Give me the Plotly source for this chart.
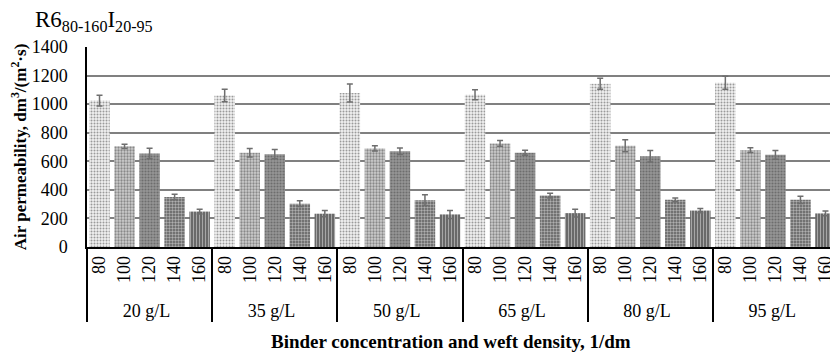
import plotly.graph_objects as go

groups = ["20 g/L", "35 g/L", "50 g/L", "65 g/L", "80 g/L", "95 g/L"]
densities = ["80", "100", "120", "140", "160"]

d80 = [1025, 1060, 1078, 1066, 1143, 1150]
d100 = [705, 660, 690, 725, 708, 678]
d120 = [655, 650, 670, 660, 635, 645]
d140 = [350, 303, 328, 360, 330, 330]
d160 = [248, 233, 228, 237, 255, 235]

e80 = [38, 44, 63, 35, 38, 45]
e100 = [15, 30, 18, 20, 42, 17]
e120 = [37, 32, 23, 17, 40, 30]
e140 = [20, 20, 37, 17, 13, 25]
e160 = [17, 22, 28, 27, 15, 17]

series = [d80, d100, d120, d140, d160]
errs = [e80, e100, e120, e140, e160]

# styles per density
bgcols = ["#f0f0f0", "#cdcdcd", "#969696", "#5e5e5e", "#4c4c4c"]
fgcols = ["#a8a8a8", "#808080", "#868686", "#2a2a2a", "#1c1c1c"]
shapes = [".", ".", ".", ".", "|"]
sizes = [3, 3, 3, 3, 3]
solid = [0.35, 0.45, 0.4, 0.5, 0.55]

xg, xd, y, e = [], [], [], []
bg, fg, sh, sz, so = [], [], [], [], []
for gi, g in enumerate(groups):
    for di, d in enumerate(densities):
        xg.append(g)
        xd.append(d)
        y.append(series[di][gi])
        e.append(errs[di][gi])
        bg.append(bgcols[di])
        fg.append(fgcols[di])
        sh.append(shapes[di])
        sz.append(sizes[di])
        so.append(solid[di])

fig = go.Figure()
fig.add_trace(go.Bar(
    x=[xg, xd], y=y,
    marker=dict(color=bg, line=dict(width=0),
                pattern=dict(shape=sh, bgcolor=bg, fgcolor=fg, size=sz,
                             solidity=so, fillmode="overlay")),
    error_y=dict(type="data", array=e, visible=True, color="#6e6e6e",
                 thickness=1.5, width=3),
    showlegend=False,
))

font = "Liberation Serif"
# page body has an 8px margin; figure size/margins compensate for it
fig.update_layout(
    width=830, height=346,
    margin=dict(l=79, r=0, t=39, b=107),
    paper_bgcolor="white", plot_bgcolor="white",
    bargap=0.18,
    font=dict(family=font, size=17, color="black"),
    xaxis=dict(
        type="multicategory",
        range=[-0.5, 29.5],
        tickangle=-90,
        automargin=False,
        showline=True, linecolor="black", linewidth=1.5,
        showdividers=True, dividercolor="black", dividerwidth=1.5,
        ticks="", tickfont=dict(family=font, size=18, color="black"),
        showgrid=False,
    ),
    yaxis=dict(
        range=[0, 1400], dtick=200, tick0=0,
        automargin=False,
        showline=True, linecolor="black", linewidth=1.5,
        showgrid=True, gridcolor="#808080", gridwidth=1.5,
        zeroline=False,
        ticks="", ticklabelstandoff=14,
        tickfont=dict(family=font, size=18, color="black"),
        title=dict(text="<b>Air permeability, dm<sup>3</sup>/(m<sup>2</sup>·s)</b>",
                   font=dict(family=font, size=17, color="black"), standoff=6),
    ),
    annotations=[
        dict(text="R6<sub>80-160</sub>I<sub>20-95</sub>", xref="paper", yref="paper",
             x=(33 - 87) / 751, y=(247 - 21) / 200, xanchor="left", yanchor="middle",
             showarrow=False, font=dict(family=font, size=23, color="black")),
        dict(text="<b>Binder concentration and weft density, 1/dm</b>", xref="paper", yref="paper",
             x=(451 - 87) / 751, y=(247 - 341) / 200, xanchor="center", yanchor="middle",
             showarrow=False, font=dict(family=font, size=19, color="black")),
    ],
)

fig.write_html("out.html")
